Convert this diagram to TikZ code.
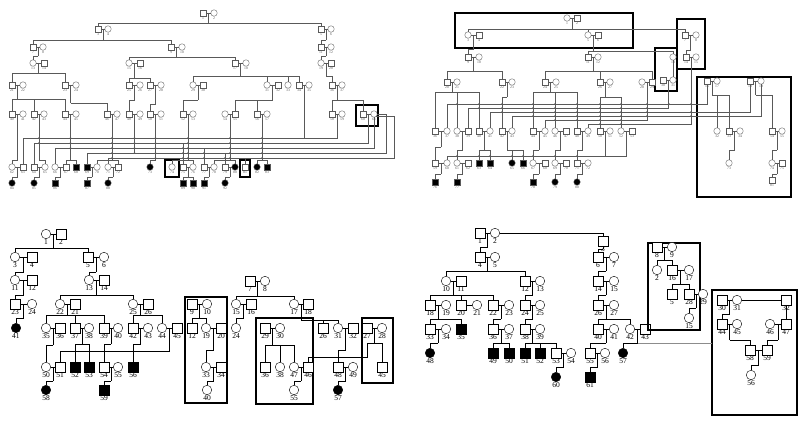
\documentclass[tikz,border=0pt]{standalone}
\usepackage{fontspec}
\setmainfont{Liberation Serif}
\usetikzlibrary{calc,positioning}

\tikzset{
  msq/.style={draw, rectangle, minimum size=9.5pt, inner sep=0pt, fill=white},
  fci/.style={draw, circle, minimum size=9.5pt, inner sep=0pt, fill=white},
  aff/.style={fill=black},
  lab/.style={font=\fontsize{7.5}{8}\selectfont, inner sep=0.6pt, anchor=north},
  kinbox/.style={draw=black, line width=1.4pt},
  faint/.style={draw=black!45},
}
% person with label below
\newcommand{\Ml}[4][]{\node[msq,#1] (#2) at (#3) {}; \node[lab] (#2l) at (#2.south) {#4};}
\newcommand{\Fl}[4][]{\node[fci,#1] (#2) at (#3) {}; \node[lab] (#2l) at (#2.south) {#4};}
% couple line and its middle
\newcommand{\cp}[3]{\draw (#1) -- (#2); \coordinate (#3) at ($(#1)!.5!(#2)$);}
% descent to a sibship line and the children
\newcommand{\kids}[3]{\draw (#1) -- (#1 |- 0,#2);
  \foreach \k in {#3}{\draw (#1 |- 0,#2) -| (\k);}}
\newcommand{\jd}[2]{\foreach \x in {#2}{\fill (\x,#1) circle (0.8pt);}}

\begin{document}
\begin{tikzpicture}[x=1pt,y=-1pt]
\useasboundingbox (0,0) rectangle (800,423);

% ================= top left =================
\begin{scope}[msq/.style={draw,rectangle,minimum size=6.5pt,inner sep=0pt,fill=white},
  fci/.style={draw,circle,minimum size=6.5pt,inner sep=0pt,fill=white},
  lab/.style={font=\fontsize{3.8}{4}\selectfont,inner sep=0.3pt,anchor=north},
  black!65, line width=0.35pt]
\Ml{tl1}{203,13}{1} \Fl{tl2}{214,13}{2}
\Ml{tl3}{98,29}{3} \Fl{tl4}{108,29}{4} \Ml{tl5}{321,29}{5} \Fl{tl6}{331,29}{6}
\Ml{tl7}{33,47}{7} \Fl{tl8}{43,47}{8} \Ml{tl9}{171,47}{9} \Fl{tl10}{182,47}{10}
\Ml{tl11}{321,47}{11} \Fl{tl12}{331,47}{12}
\Fl{tl13}{33,63}{13} \Ml{tl14}{44,63}{14} \Fl{tl15}{129,63}{15} \Ml{tl16}{140,63}{16}
\Ml{tl17}{235,63}{17} \Fl{tl18}{246,63}{18} \Fl{tl19}{321,63}{19} \Ml{tl20}{331,63}{20}
\Ml{tl21}{12,85}{21} \Fl{tl22}{23,85}{22} \Ml{tl23}{65,85}{23} \Fl{tl24}{76,85}{24}
\Ml{tl25}{129,85}{25} \Fl{tl26}{140,85}{26} \Ml{tl27}{150,85}{27} \Fl{tl28}{161,85}{28}
\Fl{tl29}{193,85}{29} \Ml{tl30}{203,85}{30} \Fl{tl31}{267,85}{31} \Ml{tl32}{278,85}{32}
\Fl{tl33}{288,85}{33} \Ml{tl34}{299,85}{34} \Fl{tl35}{309,85}{35} \Ml{tl36}{332,85}{36}
\Fl{tl37}{342,85}{37}
\Ml{tl40}{12,114}{40} \Fl{tl41}{23,114}{41} \Ml{tl42}{34,114}{42} \Fl{tl43}{44,114}{43}
\Ml{tl44}{65,114}{44} \Fl{tl45}{76,114}{45} \Ml{tl46}{107,114}{46} \Fl{tl47}{117,114}{47}
\Ml{tl48}{129,114}{48} \Fl{tl49}{140,114}{49} \Ml{tl50}{150,114}{50} \Fl{tl51}{161,114}{51}
\Ml{tl52}{183,114}{52} \Fl{tl53}{193,114}{53} \Fl{tl54}{225,114}{54} \Ml{tl55}{235,114}{55}
\Ml{tl56}{257,114}{56} \Fl{tl57}{267,114}{57} \Ml{tl58}{332,114}{58} \Fl{tl59}{342,114}{59}
\Ml{tl60}{363,114}{60} \Fl{tl61}{374,114}{61}
\Fl{tl62}{12,167}{62} \Ml{tl63}{23,167}{63} \Ml{tl64}{34,167}{64} \Fl{tl65}{45,167}{65}
\Fl{tl66}{55,167}{66} \Ml{tl67}{66,167}{67} \Ml[aff]{tl68}{76,167}{68} \Ml[aff]{tl69}{87,167}{69}
\Fl{tl70}{97,167}{70} \Fl{tl71}{108,167}{71} \Ml{tl72}{118,167}{72} \Fl[aff]{tl73}{150,167}{73}
\Fl{tl74}{172,167}{74} \Ml{tl75}{183,167}{75} \Fl{tl76}{193,167}{76} \Ml{tl77}{204,167}{77}
\Fl{tl78}{214,167}{78} \Ml{tl79}{225,167}{79} \Fl[aff]{tl80}{235,167}{80} \Ml{tl81}{245,167}{81}
\Fl[aff]{tl82}{257,167}{82} \Ml[aff]{tl83}{267,167}{83}
\Fl[aff]{tl84}{12,183}{84} \Fl[aff]{tl85}{34,183}{85} \Ml[aff]{tl86}{55,183}{86}
\Ml[aff]{tl87}{87,183}{87} \Fl[aff]{tl88}{108,183}{88} \Ml[aff]{tl89}{183,183}{89}
\Ml[aff]{tl90}{193,183}{90} \Ml[aff]{tl91}{204,183}{91} \Fl[aff]{tl92}{225,183}{92}
\draw[kinbox] (356,105) rectangle (378,126);
\draw[kinbox] (165,160) rectangle (179,177);
\draw[kinbox] (240,160) rectangle (250,177);
% lines
\cp{tl1}{tl2}{tlm1} \kids{tlm1}{23}{tl3,tl5}
\cp{tl3}{tl4}{tlm3} \kids{tlm3}{40}{tl7,tl9}
\cp{tl5}{tl6}{tlm5} \kids{tlm5}{40}{tl11}
\cp{tl7}{tl8}{tlm7} \kids{tlm7}{56}{tl13}
\cp{tl9}{tl10}{tlm9} \kids{tlm9}{57}{tl15,tl17}
\cp{tl11}{tl12}{tlm11} \kids{tlm11}{56}{tl19}
\cp{tl13}{tl14}{tlm13} \kids{tlm13}{73}{tl21,tl23}
\cp{tl15}{tl16}{tlm15} \kids{tlm15}{78}{tl25,tl27}
\cp{tl17}{tl18}{tlm17} \kids{tlm17}{76}{tl29,tl31,tl33,tl34}
\cp{tl19}{tl20}{tlm19} \kids{tlm19}{76}{tl36}
\cp{tl21}{tl22}{tlm21} \kids{tlm21}{99}{tl40,tl42,tl44}
\cp{tl23}{tl24}{tlm23} \kids{tlm23}{103}{tl46}
\cp{tl25}{tl26}{tlm25} \kids{tlm25}{100}{tl48}
\cp{tl27}{tl28}{tlm27} \kids{tlm27}{104}{tl50}
\cp{tl29}{tl30}{tlm29} \kids{tlm29}{100}{tl52}
\cp{tl31}{tl32}{tlm31} \kids{tlm31}{100}{tl55,tl56}
\cp{tl34}{tl35}{tlm34}
\cp{tl36}{tl37}{tlm36} \kids{tlm36}{100}{tl58,tl60}
\cp{tl40}{tl41}{tlm40} \kids{tlm40}{160}{tl62}
\cp{tl42}{tl43}{tlm42} \kids{tlm42}{160}{tl65}
\cp{tl44}{tl45}{tlm44} \kids{tlm44}{160}{tl67,tl68}
\cp{tl46}{tl47}{tlm46} \kids{tlm46}{160}{tl70,tl72}
\cp{tl48}{tl49}{tlm48} \draw (tlm48) -- (tlm48 |- 0,153);
\cp{tl50}{tl51}{tlm50} \kids{tlm50}{160}{tl73}
\cp{tl52}{tl53}{tlm52} \kids{tlm52}{160}{tl74,tl76}
\cp{tl54}{tl55}{tlm54} \kids{tlm54}{160}{tl78,tl80}
\cp{tl56}{tl57}{tlm56} \kids{tlm56}{160}{tl82,tl83}
\cp{tl58}{tl59}{tlm58} \cp{tl60}{tl61}{tlm60}
\draw (tlm34) -- (tlm34 |- 0,138);
% cross lines to the far branches
\draw (tlm58) |- (tl63 |- 0,138) -- (tl63);
\draw (tlm60) |- (tl64 |- 0,143) -- (tl64);
\draw (tl61.south) |- (tl66 |- 0,148) -- (tl66);
\draw (tl61.east) -- ++(8.75,0) |- (tl69 |- 0,153) -- (tl69);
\draw (tl61.south east) -- ++(18,0) |- (tl71 |- 0,158) -- (tl71);
\draw (tl75 |- 0,143) -- (tl75); \draw (tl77 |- 0,148) -- (tl77);
\draw (tl79 |- 0,153) -- (tl79); \draw (tl81 |- 0,158) -- (tl81);
\jd{138}{39,70.5,112,134.5,155.5,188,230,262}
\jd{143}{39,70.5,112,134.5,155.5,188,230,262}
\jd{148}{70.5,112,134.5,155.5,183,188,230,262}
\jd{153}{112,134.5,155.5,183,188,204,230,262}
\jd{158}{112,155.5,183,188,204,225,230,262}
\cp{tl62}{tl63}{tlm62} \kids{tlm62}{177}{tl84}
\cp{tl64}{tl65}{tlm64} \kids{tlm64}{177}{tl85}
\cp{tl66}{tl67}{tlm66} \kids{tlm66}{177}{tl86}
\cp{tl69}{tl70}{tlm69} \kids{tlm69}{177}{tl87}
\cp{tl71}{tl72}{tlm71} \kids{tlm71}{177}{tl88}
\cp{tl75}{tl76}{tlm75} \kids{tlm75}{177}{tl89,tl90}
\cp{tl77}{tl78}{tlm77} \kids{tlm77}{177}{tl91}
\cp{tl79}{tl80}{tlm79} \kids{tlm79}{177}{tl92}
\end{scope}

% ================= top right =================
\begin{scope}[msq/.style={draw,rectangle,minimum size=6.5pt,inner sep=0pt,fill=white},
  fci/.style={draw,circle,minimum size=6.5pt,inner sep=0pt,fill=white},
  lab/.style={font=\fontsize{3.8}{4}\selectfont,inner sep=0.3pt,anchor=north},
  black!65, line width=0.35pt]
\draw[kinbox] (455,13) rectangle (633,48);
\draw[kinbox] (677,19) rectangle (705,69);
\draw[kinbox] (655,48) rectangle (677,91);
\draw[kinbox] (697,77) rectangle (791,197);
\Fl{tr1}{567,18}{1} \Ml{tr2}{577,18}{2}
\Fl{tr3}{468,35}{3} \Ml{tr4}{479,35}{4} \Fl{tr5}{588,35}{5} \Ml{tr6}{598,35}{6}
\Ml{tr7}{685,35}{7} \Fl{tr8}{696,35}{8}
\Ml{tr9}{468,57}{9} \Fl{tr10}{479,57}{10} \Ml{tr11}{588,57}{11} \Fl{tr12}{598,57}{12}
\Fl{tr13}{673,57}{13} \Ml{tr14}{686,57}{14} \Fl{tr15}{696,57}{15}
\Ml{tr20}{447,82}{20} \Fl{tr21}{457,82}{21} \Ml{tr22}{502,82}{22} \Fl{tr23}{512,82}{23}
\Ml{tr24}{545,82}{24} \Fl{tr25}{556,82}{25} \Ml{tr26}{600,82}{26} \Fl{tr27}{610,82}{27}
\Fl{tr28}{642,82}{28} \Ml{tr29}{652,82}{29} \Ml{tr30}{663,80}{30} \Fl{tr31}{673,80}{31}
\Ml{tr16}{707,81}{16} \Fl{tr17}{717,81}{17} \Ml{tr18}{750,81}{18} \Fl{tr19}{761,81}{19}
\Fl{tr32}{717,131}{32} \Ml{tr33}{729,131}{33} \Fl{tr34}{740,131}{34}
\Ml{tr54}{772,131}{54} \Fl{tr55}{782,131}{55}
\Fl{tr73}{729,163}{73} \Fl{tr74}{772,163}{74} \Ml{tr75}{782,163}{75} \Ml{tr81}{772,180}{81}
\Ml{tr36}{435,131}{36} \Fl{tr37}{447,131}{37} \Fl{tr38}{457,131}{38} \Ml{tr39}{468,131}{39}
\Ml{tr40}{479,131}{40} \Fl{tr41}{490,131}{41} \Ml{tr42}{502,131}{42} \Fl{tr43}{512,131}{43}
\Ml{tr44}{533,131}{44} \Fl{tr45}{545,131}{45} \Fl{tr46}{555,131}{46} \Ml{tr47}{566,131}{47}
\Ml{tr48}{577,131}{48} \Fl{tr49}{588,131}{49} \Ml{tr50}{600,131}{50} \Fl{tr51}{610,131}{51}
\Fl{tr52}{621,131}{52} \Ml{tr53}{632,131}{53}
\Ml{tr59}{435,163}{59} \Fl{tr60}{447,163}{60} \Fl{tr61}{457,163}{61} \Ml{tr62}{468,163}{62}
\Ml[aff]{tr63}{479,163}{63} \Ml[aff]{tr64}{490,163}{64} \Fl[aff]{tr65}{512,163}{65}
\Ml[aff]{tr66}{523,163}{66} \Fl{tr67}{533,163}{67} \Ml{tr68}{545,163}{68} \Fl{tr69}{555,163}{69}
\Ml{tr70}{566,163}{70} \Ml{tr71}{577,163}{71} \Fl{tr72}{588,163}{72}
\Ml[aff]{tr76}{435,182}{76} \Ml[aff]{tr77}{457,182}{77} \Ml[aff]{tr78}{533,182}{78}
\Fl[aff]{tr79}{555,182}{79} \Fl[aff]{tr80}{577,182}{80}
% lines
\cp{tr1}{tr2}{trm1} \kids{trm1}{29}{tr3,tr5,tr7}
\cp{tr3}{tr4}{trm3} \kids{trm3}{49}{tr9}
\cp{tr5}{tr6}{trm5} \kids{trm5}{51}{tr11,tr13}
\cp{tr7}{tr8}{trm7} \kids{trm7}{50}{tr14}
\cp{tr9}{tr10}{trm9} \kids{trm9}{71}{tr20,tr22}
\cp{tr11}{tr12}{trm11} \kids{trm11}{71}{tr24,tr26,tr29}
\cp{tr14}{tr15}{trm14}
\draw (tr13) -- (tr31);
\cp{tr28}{tr29}{trm28} \cp{tr30}{tr31}{trm30}
\cp{tr16}{tr17}{trm16} \kids{trm16}{95}{tr32,tr33}
\cp{tr18}{tr19}{trm18} \kids{trm18}{95}{tr54}
\cp{tr33}{tr34}{trm33} \kids{trm33}{150}{tr73}
\cp{tr54}{tr55}{trm54} \kids{trm54}{150}{tr74}
\cp{tr74}{tr75}{trm74} \kids{trm74}{174}{tr81}
\cp{tr20}{tr21}{trm20} \kids{trm20}{92}{tr36,tr38,tr40}
\cp{tr22}{tr23}{trm22} \kids{trm22}{97}{tr42}
\cp{tr24}{tr25}{trm24} \kids{trm24}{92}{tr44,tr46,tr48}
\cp{tr26}{tr27}{trm26} \kids{trm26}{97}{tr50,tr52}
\draw (tr16) |- (tr37 |- 0,104) -- (tr37);
\draw (trm30) |- (tr39 |- 0,108) -- (tr39);
\draw (tr18) |- (tr41 |- 0,112) -- (tr41);
\draw (tr19) |- (tr43 |- 0,116) -- (tr43);
\draw (trm28) |- (tr45 |- 0,120) -- (tr45);
\draw (trm14) |- (tr49 |- 0,124) -- (tr49);
\jd{104}{457,479,502,533,555,577,600,621,647,669,691}
\jd{108}{479,502,533,555,577,600,621,647}
\jd{112}{502,533,555,577,600,621,647,691}
\jd{116}{533,555,577,600,621,647,691}
\jd{120}{555,577,600,621}
\jd{124}{600,621}
\cp{tr36}{tr37}{trm36} \kids{trm36}{147}{tr59}
\cp{tr38}{tr39}{trm38} \kids{trm38}{150}{tr61}
\cp{tr40}{tr41}{trm40} \kids{trm40}{150}{tr63,tr64}
\cp{tr42}{tr43}{trm42} \kids{trm42}{150}{tr65,tr66}
\cp{tr44}{tr45}{trm44} \kids{trm44}{150}{tr67}
\cp{tr46}{tr47}{trm46} \kids{trm46}{150}{tr69}
\cp{tr48}{tr49}{trm48} \kids{trm48}{150}{tr71}
\cp{tr50}{tr51}{trm50} \kids{trm50}{156}{tr60}
\cp{tr52}{tr53}{trm52} \draw (trm52) |- (trm50 |- 0,156);
\jd{156}{457,479,490,512,523,533,555,577}
\cp{tr59}{tr60}{trm59} \kids{trm59}{174}{tr76}
\cp{tr61}{tr62}{trm61} \kids{trm61}{174}{tr77}
\cp{tr67}{tr68}{trm67} \kids{trm67}{174}{tr78}
\cp{tr69}{tr70}{trm69} \kids{trm69}{174}{tr79}
\cp{tr71}{tr72}{trm71} \kids{trm71}{174}{tr80}
\end{scope}

% ================= bottom left =================
\Fl{bl1}{46,234}{1} \Ml{bl2}{61,234}{2}
\Fl{bl3}{15,257}{3} \Ml{bl4}{32,257}{4} \Ml{bl5}{88,257}{5} \Fl{bl6}{104,257}{6}
\Fl{bl11}{15,280}{11} \Ml{bl12}{32,280}{12} \Fl{bl13}{89,280}{13} \Ml{bl14}{104,280}{14}
\Ml{bl23}{15,304}{23} \Fl{bl24}{32,304}{24} \Fl{bl22}{60,304}{22} \Ml{bl21}{75,304}{21}
\Fl{bl25}{133,304}{25} \Ml{bl26}{148,304}{26}
\Fl[aff]{bl41}{16,328}{41}
\Fl{bl35}{46,328}{35} \Ml{bl36}{60,328}{36} \Ml{bl37}{75,328}{37} \Fl{bl38}{89,328}{38}
\Ml{bl39}{104,328}{39} \Fl{bl40}{118,328}{40} \Ml{bl42}{133,328}{42} \Fl{bl43}{148,328}{43}
\Fl{bl44}{162,328}{44} \Ml{bl45}{177,328}{45}
\Fl{bl50}{46,367}{50} \Ml{bl51}{60,367}{51} \Ml[aff]{bl52}{75,367}{52} \Ml[aff]{bl53}{89,367}{53}
\Ml{bl54}{104,367}{54} \Fl{bl55}{118,367}{55} \Ml[aff]{bl56}{133,367}{56}
\Fl[aff]{bl58}{46,390}{58} \Ml[aff]{bl59}{104,390}{59}
\cp{bl1}{bl2}{blm1} \kids{blm1}{248}{bl3,bl5}
\cp{bl3}{bl4}{blm3} \kids{blm3}{272}{bl11}
\cp{bl5}{bl6}{blm5} \kids{blm5}{272}{bl13}
\cp{bl11}{bl12}{blm11} \kids{blm11}{295}{bl23}
\cp{bl13}{bl14}{blm13} \kids{blm13}{295}{bl22,bl25}
\cp{bl23}{bl24}{blm23} \kids{blm23}{318}{bl41}
\cp{bl22}{bl21}{blm22} \kids{blm22}{315}{bl35,bl37,bl39}
\cp{bl25}{bl26}{blm25} \kids{blm25}{315}{bl42,bl44}
\cp{bl35}{bl36}{blm35} \kids{blm35}{345}{bl50}
\cp{bl37}{bl38}{blm37} \kids{blm37}{344}{bl52,bl53}
\cp{bl39}{bl40}{blm39} \kids{blm39}{344}{bl54}
\cp{bl42}{bl43}{blm42} \kids{blm42}{344}{bl56}
\cp{bl44}{bl45}{blm44} \kids{blm44}{351}{bl51}
\cp{bl50}{bl51}{blm50} \kids{blm50}{381}{bl58}
\cp{bl54}{bl55}{blm54} \kids{blm54}{381}{bl59}
% box 1
\draw[kinbox] (185,297) rectangle (227,403);
\Ml{bl9}{192,304}{9} \Fl{bl10}{207,304}{10}
\Ml{bl12x}{192,328}{12} \Fl{bl19}{206,328}{19} \Ml{bl20}{221,328}{20}
\Fl{bl33}{206,367}{33} \Ml{bl34}{221,367}{34} \Fl{bl40x}{207,390}{40}
\cp{bl9}{bl10}{blm9} \kids{blm9}{318}{bl12x,bl19}
\cp{bl19}{bl20}{blm19} \kids{blm19}{350}{bl33}
\cp{bl33}{bl34}{blm33} \kids{blm33}{381}{bl40x}
% right family
\Ml{bl7}{250,281}{7} \Fl{bl8}{265,281}{8}
\Fl{bl15}{236,304}{15} \Ml{bl16}{251,304}{16} \Fl{bl17}{294,304}{17} \Ml{bl18}{308,304}{18}
\Fl{bl24x}{236,328}{24}
\Ml{bl26x}{323,328}{26} \Fl{bl31}{338,328}{31} \Ml{bl32}{353,328}{32}
\Ml{bl48}{338,367}{48} \Fl{bl49}{353,367}{49} \Fl[aff]{bl57}{338,390}{57}
\cp{bl7}{bl8}{blm7} \kids{blm7}{296}{bl15,bl17}
\cp{bl15}{bl16}{blm15} \kids{blm15}{318}{bl24x}
\cp{bl17}{bl18}{blm17} \kids{blm17}{320}{bl26x,bl31}
\cp{bl31}{bl32}{blm31} \kids{blm31}{350}{bl48}
\cp{bl48}{bl49}{blm48} \kids{blm48}{381}{bl57}
% box 2
\draw[kinbox] (256,318) rectangle (313,404);
\Ml{bl29}{265,328}{29} \Fl{bl30}{280,328}{30}
\Ml{bl36x}{265,367}{36} \Fl{bl38x}{280,367}{38} \Fl{bl47}{294,367}{47} \Ml{bl46}{308,367}{46}
\Fl{bl55x}{294,390}{55}
\cp{bl29}{bl30}{blm29} \kids{blm29}{345}{bl36x,bl38x,bl47}
\cp{bl47}{bl46}{blm47} \kids{blm47}{381}{bl55x}
% box 3
\draw[kinbox] (362,318) rectangle (393,383);
\Ml{bl27}{367,328}{27} \Fl{bl28}{382,328}{28} \Ml{bl45x}{382,367}{45}
\cp{bl27}{bl28}{blm27} \kids{blm27}{343}{bl45x}
\coordinate (blj27) at (367,357);
\draw (blm27 |- 0,343) -| (blj27) -| (bl46);

% ================= bottom right =================
\Ml{br1}{480,233}{1} \Fl{br2}{495,233}{2} \Ml{br3}{603,241}{3}
\Ml{br4}{480,257}{4} \Fl{br5}{495,257}{5} \Ml{br6}{598,257}{6} \Fl{br7}{614,257}{7}
\Fl{br10}{446,281}{10} \Ml{br11}{461,281}{11} \Ml{br12}{525,281}{12} \Fl{br13}{540,281}{13}
\Ml{br14}{598,281}{14} \Fl{br15}{614,281}{15}
\Ml{br18}{430,305}{18} \Fl{br19}{446,305}{19} \Ml{br20}{461,305}{20} \Fl{br21}{477,305}{21}
\Ml{br22}{493,305}{22} \Fl{br23}{509,305}{23} \Ml{br24}{525,305}{24} \Fl{br25}{540,305}{25}
\Ml{br26}{598,305}{26} \Fl{br27}{614,305}{27}
\Ml{br33}{430,329}{33} \Fl{br34}{446,329}{34} \Ml[aff]{br35}{461,329}{35} \Ml{br36}{493,329}{36}
\Fl{br37}{509,329}{37} \Ml{br38}{525,329}{38} \Fl{br39}{540,329}{39} \Ml{br40}{598,329}{40}
\Fl{br41}{614,329}{41} \Fl{br42}{630,329}{42} \Ml{br43}{645,329}{43}
\Fl[aff]{br48}{430,353}{48} \Ml[aff]{br49}{493,353}{49} \Ml[aff]{br50}{509,353}{50}
\Ml[aff]{br51}{525,353}{51} \Ml[aff]{br52}{540,353}{52} \Ml{br53}{556,353}{53} \Fl{br54}{571,353}{54}
\Ml{br55}{590,353}{55} \Fl{br56}{605,353}{56} \Fl[aff]{br57}{623,353}{57}
\Fl[aff]{br60}{556,377}{60} \Ml[aff]{br61}{590,377}{61}
\draw (br2) -| (br3);
\cp{br1}{br2}{brm1} \kids{brm1}{247}{br4}
\kids{br3}{249}{br6}
\cp{br4}{br5}{brm4} \kids{brm4}{271}{br10,br12}
\cp{br6}{br7}{brm6} \kids{brm6}{271}{br14}
\cp{br10}{br11}{brm10} \kids{brm10}{295}{br18,br20,br22}
\cp{br12}{br13}{brm12} \kids{brm12}{295}{br24}
\cp{br14}{br15}{brm14} \kids{brm14}{295}{br26}
\cp{br20}{br21}{brm20}
\cp{br18}{br19}{brm18} \kids{brm18}{319}{br33,br35}
\cp{br22}{br23}{brm22} \kids{brm22}{319}{br36}
\cp{br24}{br25}{brm24} \kids{brm24}{319}{br38}
\cp{br26}{br27}{brm26} \kids{brm26}{319}{br40,br42}
\cp{br33}{br34}{brm33} \kids{brm33}{343}{br48}
\cp{br36}{br37}{brm36} \kids{brm36}{343}{br49,br50}
\cp{br38}{br39}{brm38} \kids{brm38}{343}{br51,br52,br53}
\cp{br40}{br41}{brm40} \kids{brm40}{343}{br55}
\cp{br42}{br43}{brm42} \kids{brm42}{343}{br57}
\cp{br53}{br54}{brm53} \kids{brm53}{367}{br60}
\cp{br55}{br56}{brm55} \kids{brm55}{367}{br61}
% box A
\draw[kinbox] (648,243) rectangle (700,330);
\Ml{br8}{657,247}{8} \Fl{br9}{672,247}{9}
\Fl{br2x}{657,270}{2} \Ml{br16}{672,270}{16} \Fl{br17}{689,270}{17}
\Ml{br5x}{672,294}{5} \Ml{br28}{689,294}{28} \Fl{br29}{703,294}{29}
\Fl{br15x}{689,318}{15}
\cp{br8}{br9}{brm8} \kids{brm8}{260}{br2x,br16}
\cp{br16}{br17}{brm16} \kids{brm16}{284}{br5x,br28}
\cp{br28}{br29}{brm28} \kids{brm28}{308}{br15x}
% box B
\draw[kinbox] (712,290) rectangle (797,415);
\Ml{br30}{722,300}{30} \Fl{br31}{737,300}{31} \Ml{br32}{786,300}{32}
\Ml{br44}{722,324}{44} \Fl{br45}{737,324}{45} \Fl{br46}{770,324}{46} \Ml{br47}{786,324}{47}
\Ml{br58}{750,350}{58} \Ml{br59}{767,350}{59} \Fl{br56x}{751,375}{56}
\cp{br30}{br31}{brm30} \kids{brm30}{314}{br44}
\draw (br31) -- (br32);
\kids{br32}{314}{br47}
\cp{br44}{br45}{brm44} \kids{brm44}{340}{br58}
\cp{br46}{br47}{brm46} \kids{brm46}{340}{br59}
\cp{br58}{br59}{brm58} \kids{brm58}{365}{br56x}
% faint link across to box B
\coordinate (brjb) at (712,343);
\draw[faint] (brm42 |- 0,343) -- (brjb);
\end{tikzpicture}
\end{document}
